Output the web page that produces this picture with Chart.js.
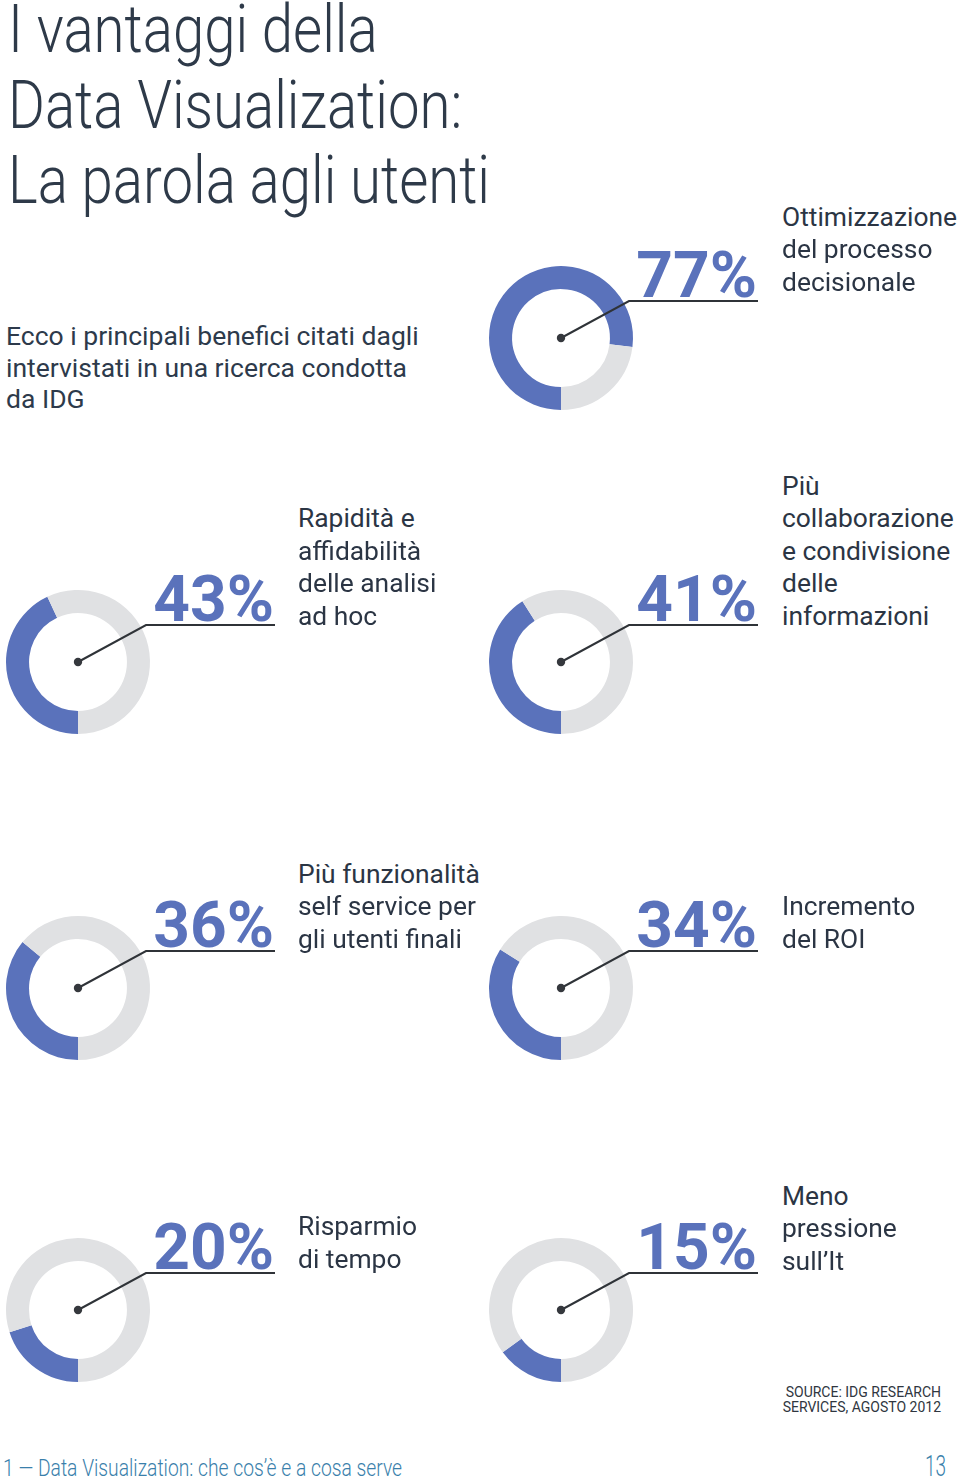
<!DOCTYPE html>
<html>
<head>
<meta charset="utf-8">
<script src="https://cdn.jsdelivr.net/npm/chart.js@4.4.0/dist/chart.umd.min.js"></script>
<style>
  body { margin: 0; width: 960px; height: 1480px; background: #fff; position: relative; overflow: hidden;
         font-family: Roboto, "Noto Sans", sans-serif; color: #2c3746; }
  .t { position: absolute; white-space: nowrap; line-height: normal; }
  .title { font-weight: 300; font-size: 66px; color: #2e3a49; transform-origin: 0 0; }
  .sub { font-size: 26.5px; color: #2d3a4b; }
  .lab { font-size: 26.4px; color: #2b3544; }
  .pct { font-size: 64px; font-weight: 700; color: #5a72bb; text-align: right; }
  .src { font-size: 14px; color: #2f3640; }
  .foot { font-weight: 300; color: #3a7fab; transform-origin: 0 0; }
  canvas { position: absolute; }
</style>
</head>
<body>
<script>
// dati
var percent = [77, 43, 41, 36, 34, 20, 15];
var remainder = [23, 57, 59, 64, 66, 80, 85];
var labels = [
  ["Ottimizzazione", "del processo", "decisionale"],
  ["Rapidità e", "affidabilità", "delle analisi", "ad hoc"],
  ["Più", "collaborazione", "e condivisione", "delle", "informazioni"],
  ["Più funzionalità", "self service per", "gli utenti finali"],
  ["Incremento", "del ROI"],
  ["Risparmio", "di tempo"],
  ["Meno", "pressione", "sull’It"]
];

// layout
var centers = [[561, 338], [78, 662], [561, 662], [78, 988], [561, 988], [78, 1310], [561, 1310]];
var lastBaseline = [291, 625, 625, 948, 948, 1268, 1270];
var BLUE = '#5a72bb', GRAY = '#e0e1e3';

function put(text, cls, x, baseline, fs) {
  var d = document.createElement('div');
  d.className = 't ' + cls;
  d.textContent = text;
  d.style.left = x + 'px';
  d.style.top = (baseline - 0.928 * fs) + 'px';
  document.body.appendChild(d);
  return d;
}

// titolo
var titleLines = ["I vantaggi della", "Data Visualization:", "La parola agli utenti"];
var titleBase = [52, 128, 203];
var tEls = titleLines.map(function (s, i) { return put(s, 'title', 8, titleBase[i], 66); });
var ts = 482 / tEls[2].getBoundingClientRect().width;
tEls.forEach(function (e) { e.style.transform = 'scaleX(' + ts + ')'; });

// sottotitolo
["Ecco i principali benefici citati dagli", "intervistati in una ricerca condotta", "da IDG"]
  .forEach(function (s, i) { put(s, 'sub', 6, 345 + i * 31.5, 26.5); });

var leader = {
  id: 'leader',
  afterDatasetsDraw: function (chart) {
    var a = chart.getDatasetMeta(0).data[0];
    var ctx = chart.ctx;
    ctx.save();
    ctx.strokeStyle = '#2f3338';
    ctx.lineWidth = 2;
    ctx.beginPath();
    ctx.moveTo(a.x, a.y);
    ctx.lineTo(a.x + 68, a.y - 37);
    ctx.lineTo(a.x + 197, a.y - 37);
    ctx.stroke();
    ctx.fillStyle = '#35383d';
    ctx.beginPath();
    ctx.arc(a.x, a.y, 4.2, 0, Math.PI * 2);
    ctx.fill();
    ctx.restore();
  }
};

percent.forEach(function (v, i) {
  var cx = centers[i][0], cy = centers[i][1];
  var cv = document.createElement('canvas');
  cv.width = 290; cv.height = 200;
  cv.style.left = (cx - 75) + 'px';
  cv.style.top = (cy - 125) + 'px';
  document.body.appendChild(cv);
  new Chart(cv, {
    type: 'doughnut',
    data: {
      labels: [labels[i].join(' '), ''],
      datasets: [{
        data: [v, remainder[i]],
        backgroundColor: [BLUE, GRAY],
        borderWidth: 0,
        hoverOffset: 0
      }]
    },
    options: {
      responsive: false,
      animation: false,
      events: [],
      rotation: 180,
      cutout: '68%',
      layout: { padding: { top: 53, bottom: 3, left: 3, right: 143 } },
      plugins: { legend: { display: false }, tooltip: { enabled: false } }
    },
    plugins: [leader]
  });

  // percentuale
  var p = put(v + '%', 'pct', 0, cy - 41, 64);
  p.style.left = 'auto';
  p.style.right = (960 - (cx + 196)) + 'px';

  // etichetta
  var lx = cx < 300 ? 298 : 782;
  var n = labels[i].length;
  labels[i].forEach(function (s, k) {
    put(s, 'lab', lx, lastBaseline[i] - (n - 1 - k) * 32.5, 26.4);
  });
});

// fonte
var s1 = put("SOURCE: IDG RESEARCH", 'src', 0, 1397, 14);
var s2 = put("SERVICES, AGOSTO 2012", 'src', 0, 1412, 14);
[s1, s2].forEach(function (e) { e.style.left = 'auto'; e.style.right = '19px'; });

// piè di pagina
var f1 = put("1 — Data Visualization: che cos’è e a cosa serve", 'foot', 3, 1476, 24);
f1.style.fontSize = '24px';
f1.style.transform = 'scaleX(' + (399 / f1.getBoundingClientRect().width) + ')';
var f2 = put("13", 'foot', 925, 1476, 29);
f2.style.fontSize = '29px';
f2.style.transform = 'scaleX(' + (21 / f2.getBoundingClientRect().width) + ')';
</script>
</body>
</html>
